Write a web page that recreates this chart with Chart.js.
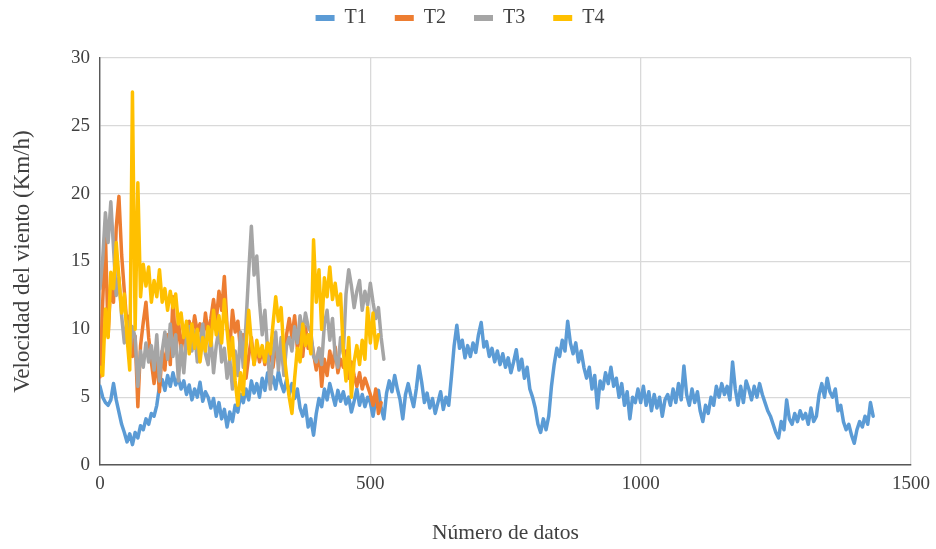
<!DOCTYPE html>
<html>
<head>
<meta charset="utf-8">
<title>Velocidad del viento</title>
<script src="https://cdn.jsdelivr.net/npm/chart.js@4.4.1/dist/chart.umd.min.js"></script>
<style>
  html, body { margin: 0; padding: 0; background: #ffffff; }
  #wrap { width: 936px; height: 549px; }
</style>
</head>
<body>
<div id="wrap"><canvas id="chart" width="936" height="549"></canvas></div>
<script>
// Wind speed records (km/h), one reading kept every SAMPLE_STEP data numbers.
const SAMPLE_STEP = 5;

const SERIES_NAMES = ['T1', 'T2', 'T3', 'T4'];
const SERIES_COLORS = ['#5B9BD5', '#ED7D31', '#A5A5A5', '#FFC000'];

const X_TICKS = [0, 500, 1000, 1500];
const Y_TICKS = [0, 5, 10, 15, 20, 25, 30];

const T1_SPEED = [
  5.8, 5.0, 4.6, 4.4, 4.8, 6.0, 4.8, 3.9, 3.0, 2.4,
  1.7, 2.3, 1.5, 2.4, 2.0, 2.9, 2.6, 3.4, 3.0, 3.8,
  3.6, 4.4, 5.8, 6.3, 5.5, 6.6, 5.8, 6.8, 5.9, 6.4,
  5.6, 6.2, 5.2, 5.9, 4.8, 5.6, 5.0, 6.1, 4.7, 5.4,
  5.0, 4.2, 4.9, 3.6, 4.6, 3.4, 4.1, 2.8, 3.9, 3.2,
  4.4, 3.9, 5.2, 4.6, 5.6, 4.8, 6.2, 5.3, 6.0, 5.0,
  6.4, 5.5, 6.8, 5.9, 6.5, 5.6, 6.9, 6.0, 5.4, 6.3,
  5.2, 6.0, 4.9, 5.6, 4.2, 3.6, 4.4, 2.8, 3.4, 2.2,
  3.8, 4.9, 4.3, 5.6, 4.8, 6.0, 5.2, 4.4, 5.5, 4.7,
  5.4, 4.5, 5.0, 3.9, 4.7, 5.6, 4.4, 5.2, 4.3, 5.0,
  4.6, 3.6, 4.8, 5.5, 4.2, 3.4, 5.3, 6.2, 5.4, 6.6,
  5.6, 4.8, 3.4, 5.2, 6.0, 5.1, 4.3, 5.6, 7.3, 6.1,
  4.6, 5.3, 4.2, 4.9, 3.8, 4.6, 5.4, 4.1, 5.0, 4.4,
  6.5, 8.8, 10.3, 8.6, 9.2, 7.9, 8.8, 8.0, 9.0, 8.3,
  9.6, 10.5, 8.7, 9.1, 8.0, 8.6, 7.6, 8.4, 7.4, 8.2,
  7.2, 7.9, 6.8, 7.6, 8.5, 7.0, 7.8, 6.4, 7.2, 5.6,
  5.0, 4.2, 3.0, 2.4, 3.4, 2.6, 3.6, 5.8, 7.4, 8.6,
  8.0, 9.2, 8.4, 10.6, 9.0, 8.2, 9.0, 7.6, 8.4, 7.2,
  6.4, 7.2, 5.6, 6.6, 4.2, 6.2, 5.6, 6.8, 6.0, 7.2,
  5.8, 6.4, 5.0, 6.0, 4.4, 5.4, 3.4, 5.0, 4.6, 5.6,
  4.6, 5.8, 4.4, 5.4, 4.0, 5.2, 4.2, 5.0, 3.6, 4.8,
  5.2, 4.4, 5.6, 4.6, 6.0, 4.8, 7.3, 5.2, 4.4, 5.6,
  4.6, 5.4, 4.0, 3.2, 4.4, 3.8, 5.0, 4.4, 5.8, 5.0,
  6.0, 5.2, 5.8, 4.8, 7.6, 5.6, 4.4, 5.8, 4.6, 6.2,
  5.6, 4.8, 5.8, 5.0, 6.0, 5.2, 4.6, 4.0, 3.6, 3.0,
  2.4, 2.0, 3.2, 2.6, 4.8, 3.4, 3.0, 3.8, 3.2, 4.0,
  3.4, 3.8, 3.0, 4.2, 3.2, 3.6, 5.2, 6.0, 5.0, 6.4,
  5.4, 5.0, 5.6, 4.0, 4.4, 3.2, 2.6, 3.0, 2.2, 1.6,
  2.6, 3.2, 2.8, 3.6, 3.0, 4.6, 3.6
];

const T2_SPEED = [
  6.5, 12.0, 17.0, 9.5, 13.5, 12.0, 17.5, 19.8, 15.5, 12.8,
  10.2, 11.0, 8.0, 9.5, 4.3, 8.8, 10.5, 12.0, 9.4, 7.6,
  6.0, 7.8, 5.4, 8.4, 7.0, 9.6, 7.4, 12.4, 8.4, 10.8,
  8.2, 10.0, 8.6, 10.6, 9.4, 11.0, 9.8, 10.4, 9.0, 11.2,
  9.6, 10.8, 12.2, 10.6, 12.8, 11.4, 13.9, 10.2, 8.6, 11.4,
  9.8, 10.6, 8.4, 9.6, 6.4, 8.0, 9.4, 7.4, 8.8, 7.6,
  8.6, 7.4, 9.0, 8.2, 7.2, 8.8, 7.8, 8.4, 7.2, 9.6,
  10.8, 9.4, 11.0, 8.6, 9.8, 8.0, 10.2, 8.6, 9.4, 8.2,
  7.0, 8.6, 5.8, 7.8, 6.6, 8.4, 7.2, 8.7, 6.8, 7.8,
  7.2, 8.4, 6.4, 7.6, 6.6, 5.8, 6.8, 5.6, 6.4, 5.8,
  5.2, 4.4, 5.6, 3.8, 4.6
];

const T3_SPEED = [
  13.0, 15.2, 18.6, 16.4, 19.4, 16.0, 12.5, 13.8, 11.0, 9.0,
  10.6, 8.2, 10.2, 9.4, 5.8, 8.4, 7.2, 9.0, 7.6, 8.8,
  7.0, 9.6, 6.2, 8.4, 9.8, 7.8, 10.4, 8.0, 9.6, 6.2,
  8.8, 6.8, 9.4, 10.2, 8.4, 9.8, 7.6, 9.0, 10.4, 8.2,
  7.4, 9.6, 6.8, 8.8, 10.0, 7.6, 8.6, 6.4, 7.8, 5.6,
  8.4, 6.6, 9.8, 7.2, 10.4, 14.2, 17.6, 14.0, 15.4, 12.0,
  9.6, 11.4, 8.4, 5.6, 8.2, 9.8, 7.0, 9.4, 6.6, 8.8,
  9.4, 8.4, 10.2, 9.0, 11.0, 9.6, 11.2, 10.2, 9.8, 8.0,
  7.6, 8.6, 7.4, 10.4, 11.4, 9.2, 10.8, 8.0, 7.2, 9.4,
  8.2, 12.6, 14.4, 13.2, 11.6, 12.8, 13.6, 11.4, 12.8, 11.8,
  13.4, 12.0, 10.8, 11.6, 9.4, 7.8
];

const T4_SPEED = [
  7.2, 6.6, 11.5, 9.4, 14.2, 13.0, 16.4, 13.8, 11.2, 12.6,
  9.4, 7.0, 27.5, 10.0, 20.8, 12.4, 14.8, 13.2, 14.6, 12.0,
  13.6, 12.4, 14.4, 12.0, 13.0, 11.4, 12.8, 11.6, 12.6, 10.4,
  11.2, 9.4, 10.6, 8.2, 10.4, 8.6, 10.0, 7.6, 9.4, 8.4,
  10.2, 8.8, 11.4, 9.6, 11.0, 9.0, 12.2, 10.0, 7.8, 9.4,
  6.2, 4.4, 6.8, 5.2, 8.6, 11.4, 9.0, 7.4, 9.2, 8.0,
  8.8, 7.6, 9.0, 8.2, 10.4, 12.4, 10.6, 11.6, 8.4, 6.6,
  5.0, 3.8, 6.4, 8.6, 7.6, 10.4, 8.8, 9.6, 8.2, 16.6,
  12.0, 14.4, 10.0, 13.8, 12.4, 14.6, 12.2, 13.4, 11.8, 12.6,
  8.4, 6.2, 9.4, 5.0, 7.6, 8.8, 7.4, 9.2, 7.8, 11.6,
  9.0, 11.2, 8.6, 9.6
];

const SERIES_VALUES = [T1_SPEED, T2_SPEED, T3_SPEED, T4_SPEED];

function toPoints(values) {
  return values.map((v, i) => ({ x: i * SAMPLE_STEP, y: v }));
}

const SERIF = "'Liberation Serif', 'Times New Roman', serif";
const TEXT_COLOR = '#404040';
const GRID_COLOR = '#d9d9d9';
const AXIS_COLOR = '#595959';
const LEGEND_BAND = 58;   // height reserved above the plot for the legend row

Chart.defaults.font.family = SERIF;
Chart.defaults.color = TEXT_COLOR;

// Gives the legend a fixed band so the plot starts below it.
const legendBand = {
  id: 'legendBand',
  beforeLayout(chart) {
    const legend = chart.legend;
    if (legend && !legend.$bandFit) {
      const fit = legend.fit;
      legend.fit = function () {
        fit.call(this);
        this.height = LEGEND_BAND;
      };
      legend.$bandFit = true;
    }
  }
};

const datasets = SERIES_NAMES.map((name, i) => ({
  label: name,
  data: toPoints(SERIES_VALUES[i]),
  borderColor: SERIES_COLORS[i],
  backgroundColor: SERIES_COLORS[i],
  borderWidth: 3.5,
  borderJoinStyle: 'round',
  borderCapStyle: 'round',
  pointRadius: 0,
  pointHoverRadius: 0,
  tension: 0,
  fill: false,
  // later series are painted over earlier ones
  order: SERIES_NAMES.length - i
}));

new Chart(document.getElementById('chart'), {
  type: 'line',
  data: { datasets },
  plugins: [legendBand],
  options: {
    responsive: false,
    animation: false,
    layout: { padding: { top: 0, right: 16, bottom: 0, left: 0 } },
    plugins: {
      tooltip: { enabled: false },
      legend: {
        position: 'top',
        align: 'center',
        labels: {
          font: { family: SERIF, size: 20 },
          color: TEXT_COLOR,
          boxWidth: 19,
          boxHeight: 6,
          padding: 8,
          generateLabels(chart) {
            const items = Chart.defaults.plugins.legend.labels.generateLabels(chart);
            items.sort((a, b) => a.datasetIndex - b.datasetIndex);
            items.forEach((item, k) => {
              item.lineWidth = 0;
              item.fillStyle = SERIES_COLORS[item.datasetIndex];
              if (k < items.length - 1) item.text += '\u00a0\u00a0\u00a0\u00a0';
            });
            return items;
          }
        }
      }
    },
    scales: {
      x: {
        type: 'linear',
        min: X_TICKS[0],
        max: X_TICKS[X_TICKS.length - 1],
        afterBuildTicks(scale) { scale.ticks = X_TICKS.map(v => ({ value: v })); },
        afterFit(scale) { scale.height = 84; scale.paddingRight = 25; },
        ticks: {
          font: { size: 19 },
          color: TEXT_COLOR,
          padding: 8,
          maxRotation: 0,
          callback: (v) => String(v)
        },
        grid: { color: GRID_COLOR, lineWidth: 1.3, drawTicks: false },
        border: { display: true, color: AXIS_COLOR, width: 1.4 },
        title: {
          display: true,
          text: 'Número de datos',
          font: { family: SERIF, size: 21.5 },
          color: TEXT_COLOR,
          padding: { top: 0, bottom: 3 }
        }
      },
      y: {
        type: 'linear',
        min: Y_TICKS[0],
        max: Y_TICKS[Y_TICKS.length - 1],
        afterBuildTicks(scale) { scale.ticks = Y_TICKS.map(v => ({ value: v })); },
        afterFit(scale) { scale.width = 100; },
        ticks: { font: { size: 19 }, color: TEXT_COLOR, padding: 10 },
        grid: { color: GRID_COLOR, lineWidth: 1.3, drawTicks: false },
        border: { display: true, color: AXIS_COLOR, width: 1.4 },
        title: {
          display: true,
          text: 'Velocidad del viento (Km/h)',
          font: { family: SERIF, size: 23 },
          color: TEXT_COLOR,
          padding: { top: 9, bottom: 0 }
        }
      }
    }
  }
});
</script>
</body>
</html>
